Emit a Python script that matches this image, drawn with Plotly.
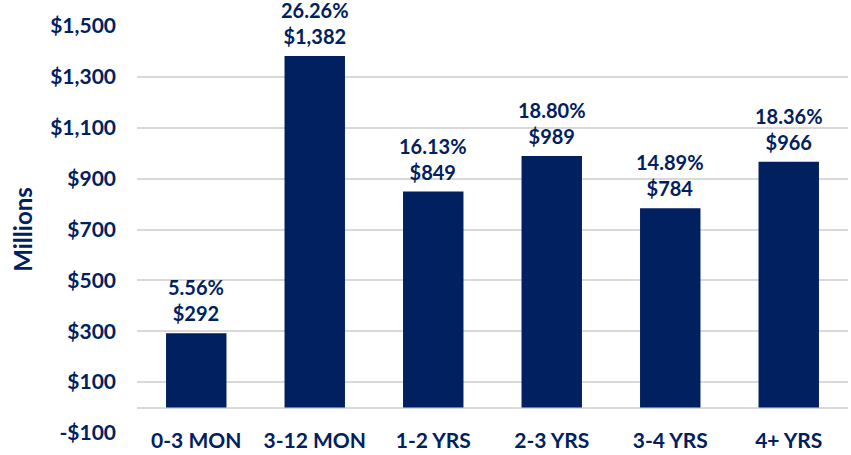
import plotly.graph_objects as go

categories = ["0-3 MON", "3-12 MON", "1-2 YRS", "2-3 YRS", "3-4 YRS", "4+ YRS"]
values = [292, 1382, 849, 989, 784, 966]
percents = [5.56, 26.26, 16.13, 18.80, 14.89, 18.36]
y_ticks = [-100, 100, 300, 500, 700, 900, 1100, 1300, 1500]
y_tick_labels = ["-$100", "$100", "$300", "$500", "$700", "$900", "$1,100", "$1,300", "$1,500"]

NAVY = "#002060"
FONT = "Lato"

labels = [f"{p:.2f}%<br>${v:,}" for p, v in zip(percents, values)]

fig = go.Figure(go.Bar(
    x=categories, y=values, marker=dict(color=NAVY, line=dict(width=0)),
    hoverinfo="skip",
))

for c, v, t in zip(categories, values, labels):
    fig.add_annotation(
        x=c, y=v, xref="x", yref="y", text=t, showarrow=False,
        yanchor="bottom", yshift=6,
        font=dict(family=FONT, size=20, color=NAVY, weight="bold"),
    )

fig.update_layout(
    width=851, height=455,
    margin=dict(l=137, r=3, t=26, b=15),
    paper_bgcolor="white", plot_bgcolor="white",
    bargap=0.49, showlegend=False,
    font=dict(family=FONT, color=NAVY, weight="bold"),
)
fig.update_xaxes(
    showgrid=False, showline=False, zeroline=False,
    tickfont=dict(family=FONT, size=21, color=NAVY, weight="bold"),
    ticklabelstandoff=-7,
)
fig.update_yaxes(
    range=[-100, 1500], tickvals=y_ticks, ticktext=y_tick_labels,
    showgrid=True, gridcolor="#d9d9d9", gridwidth=1.5,
    zeroline=True, zerolinecolor="#d9d9d9", zerolinewidth=1.5,
    showline=False,
    tickfont=dict(family=FONT, size=21, color=NAVY, weight="bold"),
    ticklabelstandoff=20,
    title=dict(text="Millions", font=dict(family=FONT, size=24, color=NAVY, weight="bold"), standoff=10),
    automargin=False,
)

fig.write_html("out.html", config={"displayModeBar": False},
               post_script="document.body.style.margin='0';")
